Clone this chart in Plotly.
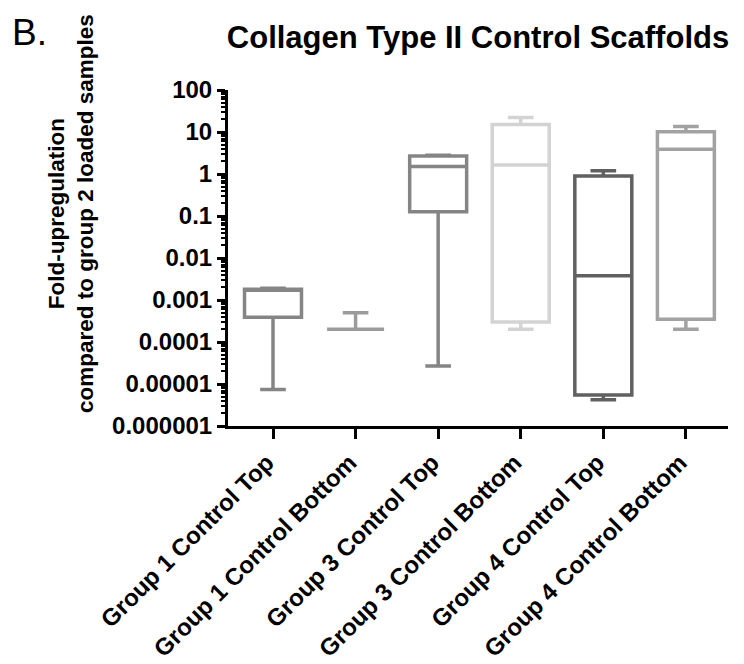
import plotly.graph_objects as go

# Box statistics (log scale)
groups = ['Group 1 Control Top', 'Group 1 Control Bottom', 'Group 3 Control Top',
          'Group 3 Control Bottom', 'Group 4 Control Top', 'Group 4 Control Bottom']
q_min = [0.0000074, 0.0002, 0.000027, 0.0002, 0.0000042, 0.0002]
q1 = [0.00039, 0.0002, 0.126, 0.0003, 0.0000055, 0.00035]
median = [0.0017, 0.0002, 1.5, 1.64, 0.0038, 3.9]
q3 = [0.0018, 0.0002, 2.7, 15, 0.9, 10.2]
q_max = [0.0019, 0.0005, 2.8, 22, 1.2, 13.5]
colors = ['#858585', '#9b9b9b', '#858585', '#d3d3d3', '#606060', '#a2a2a2']

y_tickvals = [1e-6, 1e-5, 1e-4, 1e-3, 1e-2, 0.1, 1, 10, 100]
y_ticktext = ['0.000001', '0.00001', '0.0001', '0.001', '0.01', '0.1', '1', '10', '100']

FONT = 'Liberation Sans, Arial, sans-serif'

# page body adds 8px offset, so the figure is 8px smaller than the window
W, H = 736, 656
L, T, PW, PH = 220, 82, 500, 336

fig = go.Figure()

for i, g in enumerate(groups):
    fig.add_trace(go.Box(
        x=[g],
        q1=[q1[i]], median=[median[i]], q3=[q3[i]],
        lowerfence=[q_min[i]], upperfence=[q_max[i]],
        line=dict(color=colors[i], width=3.5),
        fillcolor='rgba(255,255,255,0)',
        width=0.69,
        whiskerwidth=0.45,
        boxpoints=False,
        showlegend=False,
        name=g
    ))

# minor log ticks 2..9 per decade
minor_vals = [k * 10 ** e for e in range(-6, 2) for k in range(2, 10)]

fig.update_layout(
    width=W, height=H,
    margin=dict(l=L, r=W - L - PW, t=T, b=H - T - PH),
    paper_bgcolor='white',
    plot_bgcolor='white',
    font=dict(family=FONT, color='black'),
    title=dict(
        text='<b>Collagen Type II Control Scaffolds</b>',
        x=0.5, xref='paper', xanchor='center',
        y=1 - 29 / H, yref='container', yanchor='middle',
        font=dict(size=31, family=FONT, color='black')
    ),
    xaxis=dict(
        type='category',
        range=[-0.545, 5.51],
        automargin=False,
        showline=True, linecolor='black', linewidth=3,
        ticks='outside', ticklen=10, tickwidth=3, tickcolor='black',
        tickangle=-45,
        ticklabelshift=-6,
        tickfont=dict(size=24, family=FONT, color='black', weight='bold'),
        showgrid=False, zeroline=False
    ),
    yaxis=dict(
        type='log',
        range=[-6, 2],
        automargin=False,
        tickmode='array', tickvals=y_tickvals, ticktext=y_ticktext,
        showline=True, linecolor='black', linewidth=3,
        ticks='outside', ticklen=8, tickwidth=3, tickcolor='black',
        tickfont=dict(size=24, family=FONT, color='black', weight='bold'),
        minor=dict(tickmode='array', tickvals=minor_vals, ticks='outside',
                   ticklen=4, tickwidth=1.5, tickcolor='black', showgrid=False),
        showgrid=False, zeroline=False
    ),
    annotations=[
        dict(text='B.', xref='paper', yref='paper',
             x=-(L - 2) / PW, y=1 + (T - 2) / PH,
             xanchor='left', yanchor='top', showarrow=False,
             font=dict(size=37, family=FONT, color='black')),
        dict(text='<b>Fold-upregulation<br>compared to group 2 loaded samples</b>',
             xref='paper', yref='paper',
             x=(63 - L) / PW, y=(T + PH - 206) / PH,
             xanchor='center', yanchor='middle', showarrow=False,
             textangle=-90,
             font=dict(size=22.5, family=FONT, color='black'))
    ]
)

fig.write_html('out.html')
